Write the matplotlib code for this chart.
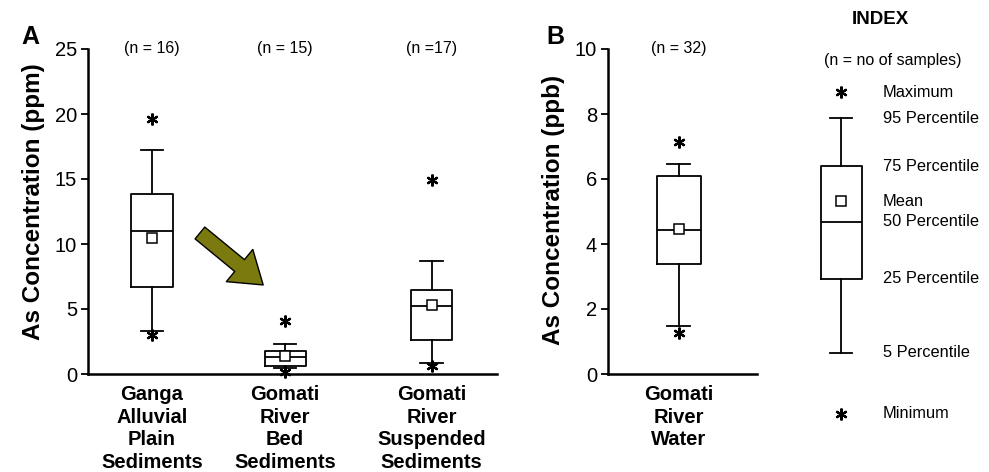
import matplotlib
matplotlib.use("Agg")
import matplotlib.pyplot as plt
from matplotlib.patches import FancyArrowPatch

plt.rcParams['font.family'] = ['Liberation Sans', 'DejaVu Sans']

# ---------------- data ----------------
cats_a = ["Ganga\nAlluvial\nPlain\nSediments", "Gomati\nRiver\nBed\nSediments",
          "Gomati\nRiver\nSuspended\nSediments"]
n_a = ["(n = 16)", "(n = 15)", "(n =17)"]
mins_a = [3.0, 0.15, 0.6]
p05_a = [3.3, 0.5, 0.85]
q1_a = [6.7, 0.6, 2.6]
med_a = [11.0, 1.3, 5.2]
mean_a = [10.5, 1.35, 5.3]
q3_a = [13.85, 1.8, 6.5]
p95_a = [17.2, 2.3, 8.7]
maxs_a = [19.6, 4.1, 14.9]

cats_b = ["Gomati\nRiver\nWater"]
n_b = ["(n = 32)"]
mins_b = [1.26]
p05_b = [1.48]
q1_b = [3.39]
med_b = [4.44]
mean_b = [4.45]
q3_b = [6.08]
p95_b = [6.45]
maxs_b = [7.13]

# index (legend) example box, on panel-B scale
idx_vals = dict(mn=-1.23, p05=0.65, q1=2.93, med=4.69, mean=5.31, q3=6.39, p95=7.87, mx=8.67)
idx_labels = [("Maximum", "mx"), ("95 Percentile", "p95"), ("75 Percentile", "q3"),
              ("Mean", "mean"), ("50 Percentile", "med"), ("25 Percentile", "q1"),
              ("5 Percentile", "p05"), ("Minimum", "mn")]

# ---------------- styles ----------------
LW = 1.3
box_kw = dict(boxprops=dict(color='black', linewidth=LW),
              whiskerprops=dict(color='black', linewidth=LW),
              capprops=dict(color='black', linewidth=LW),
              medianprops=dict(color='black', linewidth=LW),
              meanprops=dict(marker='s', markerfacecolor='white', markeredgecolor='black',
                             markersize=6.5, markeredgewidth=1.1),
              flierprops=dict(marker=(6, 2, 0), markeredgecolor='black', markersize=8.5,
                              markeredgewidth=1.6, linestyle='none'),
              showmeans=True, showfliers=True, patch_artist=False)


def stats(i, mins, p05, q1, med, mean, q3, p95, maxs):
    return dict(whislo=p05[i], q1=q1[i], med=med[i], mean=mean[i], q3=q3[i],
                whishi=p95[i], fliers=[mins[i], maxs[i]])


def style_axes(ax):
    for s in ['top', 'right']:
        ax.spines[s].set_visible(False)
    ax.spines['left'].set_linewidth(1.8)
    ax.spines['bottom'].set_linewidth(1.8)
    ax.tick_params(axis='y', direction='out', length=5, width=1.3, labelsize=14.5, pad=3)
    ax.tick_params(axis='x', length=0, labelsize=14.5, pad=8)
    for lab in ax.get_xticklabels():
        lab.set_fontweight('bold')
        lab.set_linespacing(1.24)


W, H = 989, 472
fig = plt.figure(figsize=(W / 100, H / 100), dpi=100)

bottom = 1 - 374 / H
height = (374 - 49) / H

# ---------------- panel A ----------------
axA = fig.add_axes([88 / W, bottom, (497 - 88) / W, height])
pos_a = [1, 2, 3.1]
sa = [stats(i, mins_a, p05_a, q1_a, med_a, mean_a, q3_a, p95_a, maxs_a) for i in range(3)]
axA.bxp(sa, positions=pos_a, widths=0.31, capwidths=0.17, **box_kw)
axA.set_xlim(0.52, 3.59)
axA.set_ylim(0, 25)
axA.set_yticks([0, 5, 10, 15, 20, 25])
axA.set_xticks(pos_a)
axA.set_xticklabels(cats_a)
axA.set_ylabel("As Concentration (ppm)", fontsize=17.5, fontweight='bold')
axA.yaxis.set_label_coords(-0.105, 0.529)
style_axes(axA)
for p, t in zip(pos_a, n_a):
    axA.text(p, 25, t, ha='center', va='center', fontsize=11.5)
for c in axA.get_children():
    try:
        c.set_clip_on(False)
    except Exception:
        pass

# olive arrow annotation
arrow_tail = (1.36, 10.85)
arrow_tip = (1.835, 6.85)
arr = FancyArrowPatch(arrow_tail, arrow_tip,
                      arrowstyle='simple,head_length=22,head_width=30,tail_width=11',
                      facecolor='#7a7a0e', edgecolor='black', linewidth=1.0,
                      mutation_scale=1, shrinkA=0, shrinkB=0)
axA.add_patch(arr)

fig.text(30 / W, 1 - 37 / H, "A", fontsize=18, fontweight='bold', ha='center', va='center')

# ---------------- panel B ----------------
axB = fig.add_axes([608 / W, bottom, (757 - 608) / W, height])
sb = [stats(0, mins_b, p05_b, q1_b, med_b, mean_b, q3_b, p95_b, maxs_b)]
axB.bxp(sb, positions=[1], widths=0.56, capwidths=0.3, **box_kw)
axB.set_xlim(0.1, 2.0)
axB.set_ylim(0, 10)
axB.set_yticks([0, 2, 4, 6, 8, 10])
axB.set_xticks([1])
axB.set_xticklabels(cats_b)
axB.set_ylabel("As Concentration (ppb)", fontsize=17.5, fontweight='bold')
axB.yaxis.set_label_coords(-0.289, 0.505)
style_axes(axB)
axB.text(1, 10, n_b[0], ha='center', va='center', fontsize=11.5)
for c in axB.get_children():
    try:
        c.set_clip_on(False)
    except Exception:
        pass
fig.text(555 / W, 1 - 37 / H, "B", fontsize=18, fontweight='bold', ha='center', va='center')

# ---------------- index ----------------
axI = fig.add_axes([780 / W, bottom, (W - 780) / W, height])
axI.set_xlim(0, 1)
axI.set_ylim(0, 10)
axI.axis('off')
si = dict(whislo=idx_vals['p05'], q1=idx_vals['q1'], med=idx_vals['med'], mean=idx_vals['mean'],
          q3=idx_vals['q3'], whishi=idx_vals['p95'], fliers=[idx_vals['mn'], idx_vals['mx']])
axI.bxp([si], positions=[(841 - 780) / (W - 780)], widths=41 / (W - 780),
        capwidths=22 / (W - 780), **box_kw)
for c in axI.get_children():
    try:
        c.set_clip_on(False)
    except Exception:
        pass
for lab, key in idx_labels:
    axI.text((883 - 780) / (W - 780), idx_vals[key], lab, ha='left', va='center', fontsize=11.8,
             clip_on=False)
fig.text(880 / W, 1 - 20 / H, "INDEX", fontsize=13.5, fontweight='bold', ha='center', va='center')
fig.text(893 / W, 1 - 60 / H, "(n = no of samples)", fontsize=11.5, ha='center', va='center')

fig.savefig("out.png", dpi=100)
